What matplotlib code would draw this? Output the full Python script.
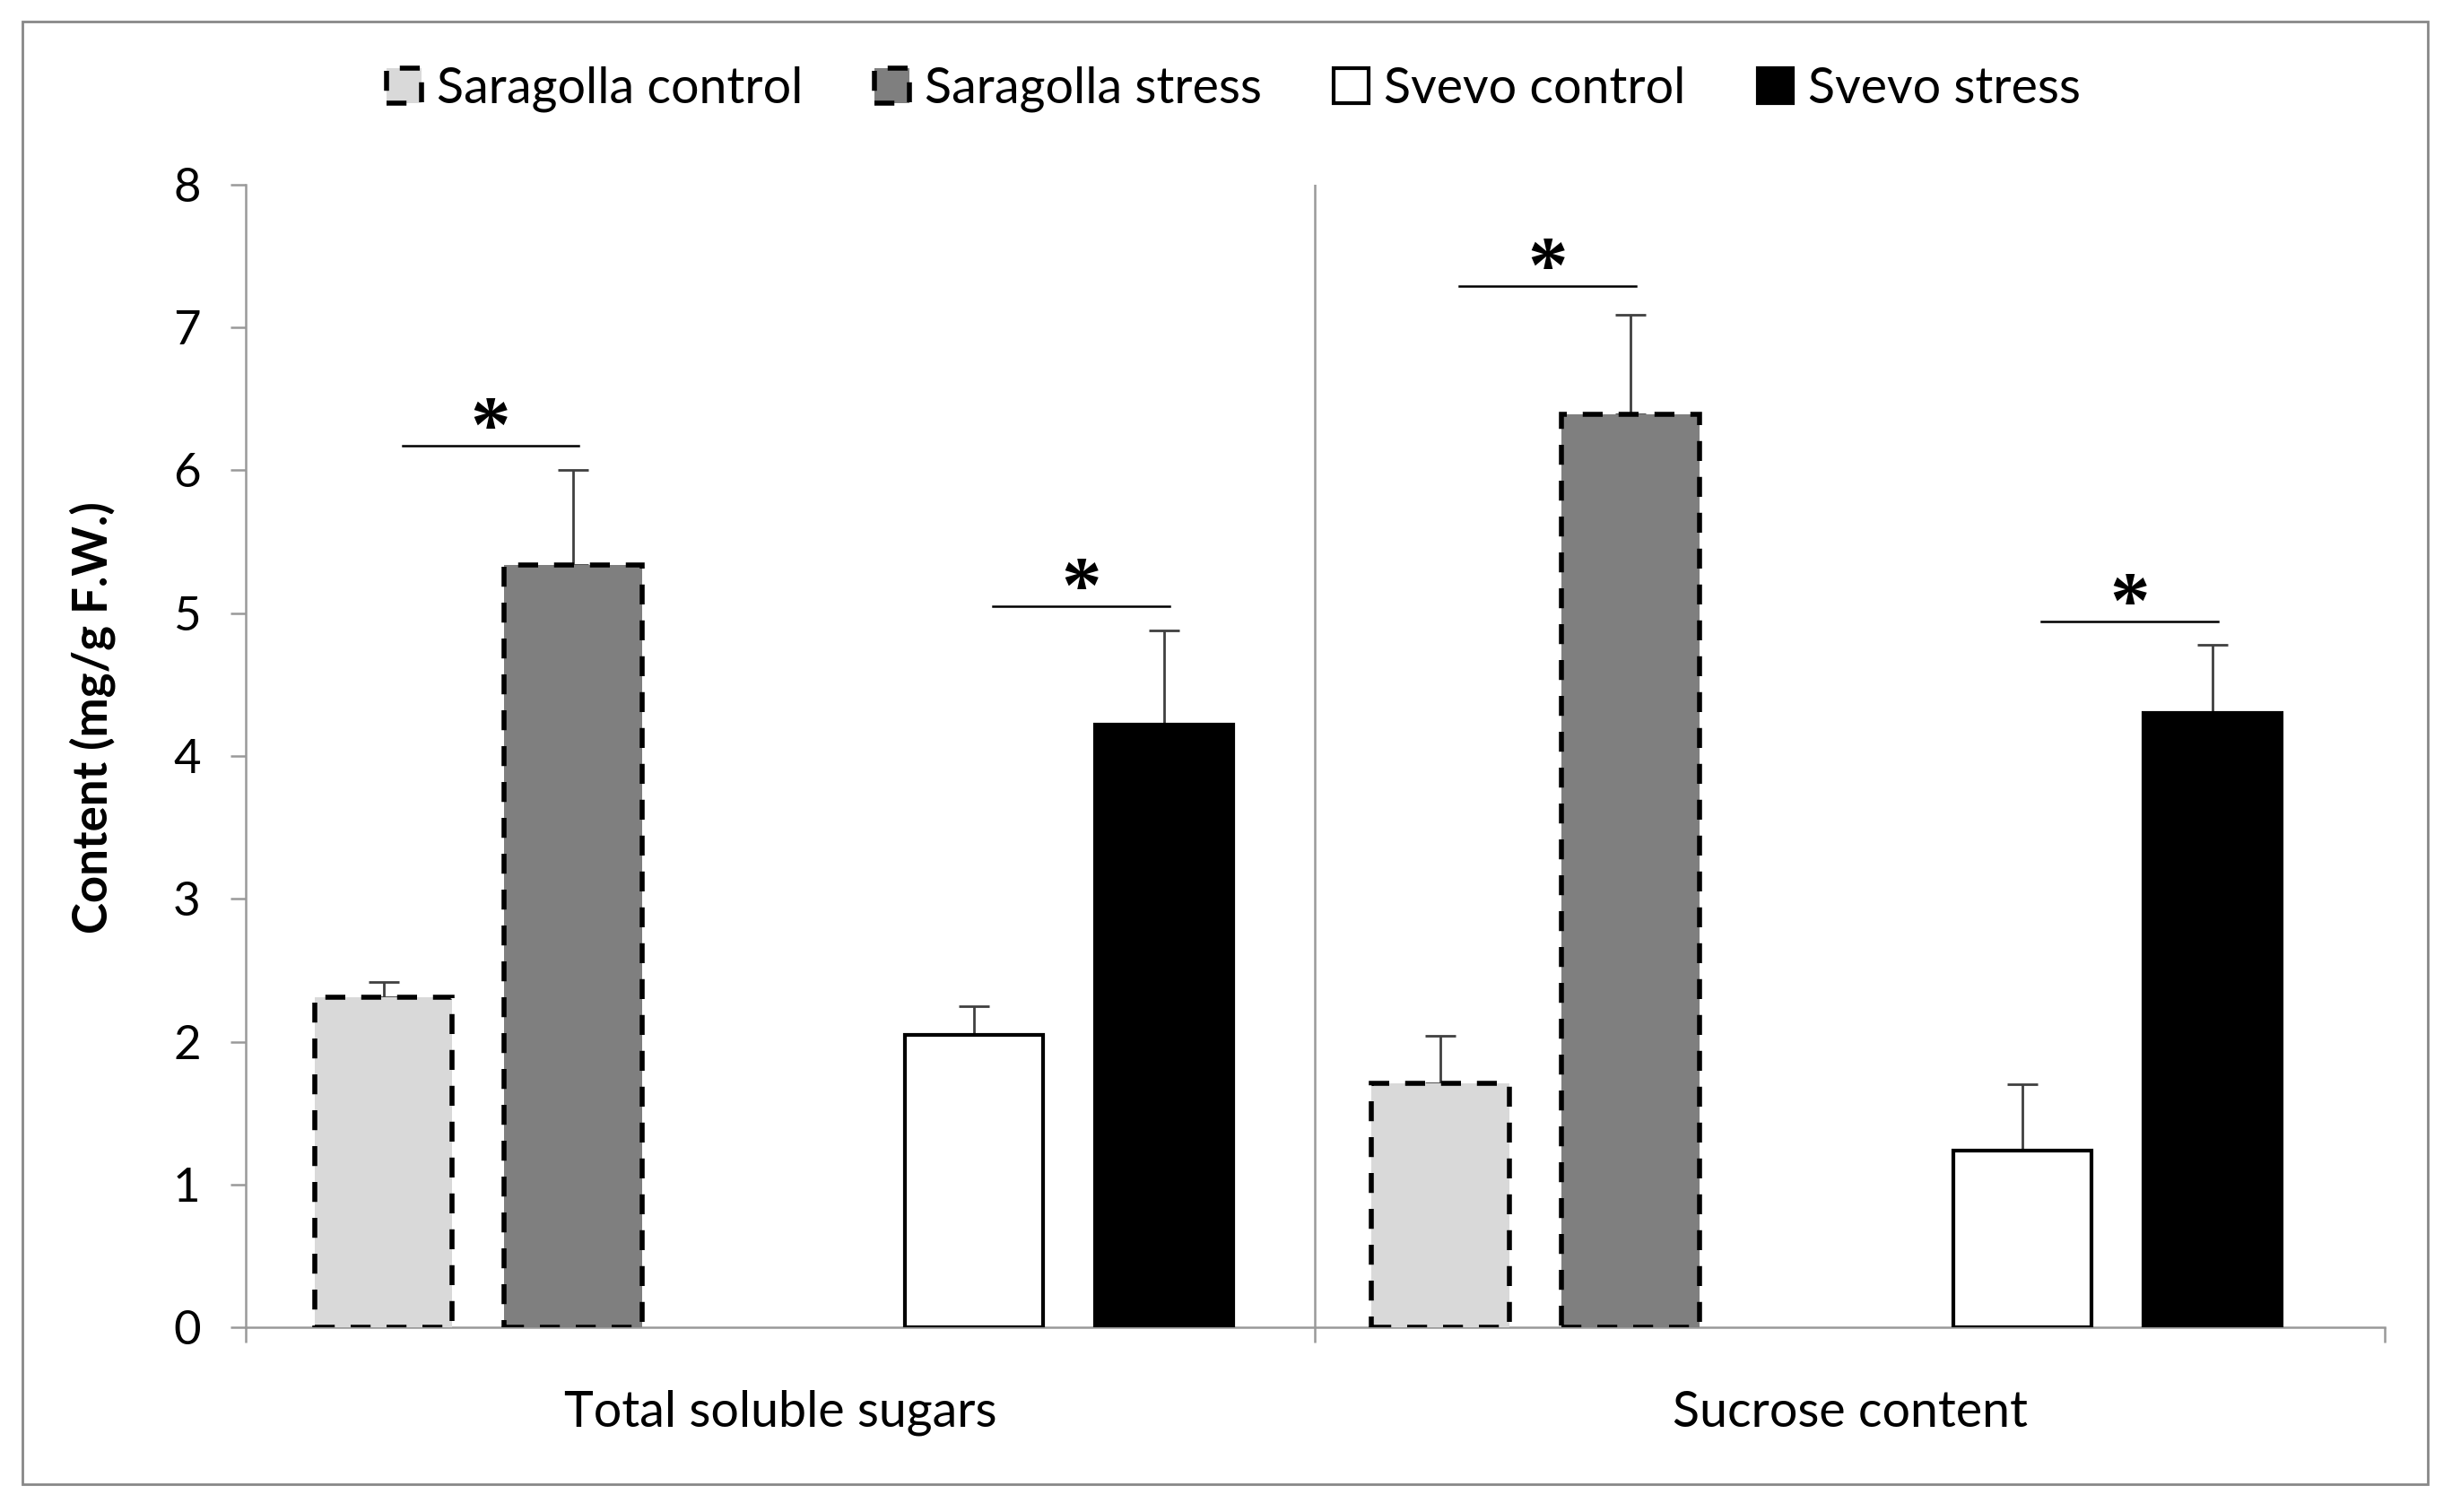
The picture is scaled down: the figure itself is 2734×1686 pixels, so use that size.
import matplotlib
matplotlib.use("Agg")
import matplotlib.pyplot as plt
from matplotlib.patches import Patch, Rectangle
import numpy as np

# data
categories = ["Total soluble sugars", "Sucrose content"]
series = ["Saragolla control", "Saragolla stress", "Svevo control", "Svevo stress"]
sar_control = [2.31, 1.71]
sar_stress = [5.34, 6.39]
sv_control = [2.05, 1.24]
sv_stress = [4.22, 4.30]
sar_control_err = [0.11, 0.33]
sar_stress_err = [0.66, 0.70]
sv_control_err = [0.20, 0.46]
sv_stress_err = [0.66, 0.48]
# significance bars: (category index, pair, height)
sig_marks = [(0, "Saragolla", 6.17), (0, "Svevo", 5.05),
             (1, "Saragolla", 7.29), (1, "Svevo", 4.94)]

plt.rcParams["font.family"] = ["Lato", "DejaVu Sans"]

fig = plt.figure(figsize=(13.67, 8.43), dpi=200)
ax = fig.add_axes([0.1001, 0.122, 0.8725, 0.756])

x = np.arange(len(categories))
# bar offsets from category centre, per category (series order)
offsets = np.array([[-0.371, -0.194, 0.181, 0.359],
                    [-0.383, -0.205, 0.161, 0.339]])
width = 0.129
values = [sar_control, sar_stress, sv_control, sv_stress]
errs = [sar_control_err, sar_stress_err, sv_control_err, sv_stress_err]
faces = ["#d9d9d9", "#7f7f7f", "white", "black"]
styles = [(0, (4, 3.2)), (0, (4, 3.2)), "solid", "solid"]
lws = [2.0, 2.0, 1.5, 1.5]

for i, (vals, err, fc, ls, lw) in enumerate(zip(values, errs, faces, styles, lws)):
    pos = x + offsets[:, i]
    ax.bar(pos, vals, width, color=fc, edgecolor="black", linestyle=ls,
           linewidth=lw, zorder=3)
    ax.errorbar(pos, vals, yerr=[np.zeros(len(vals)), err], fmt="none",
                ecolor="#404040", elinewidth=1.0, capsize=6, capthick=1.0, zorder=2)

pairs = {"Saragolla": (0, 1), "Svevo": (2, 3)}
for ci, name, h in sig_marks:
    a, b = pairs[name]
    x0 = ci + offsets[ci, a] + 0.018
    x1 = ci + offsets[ci, b] + 0.005
    ax.plot([x0, x1], [h, h], color="black", lw=0.9, zorder=4)
    ax.text((x0 + x1) / 2, h - 0.15, "*", ha="center", va="bottom",
            fontsize=32, fontweight="bold", family="Liberation Serif")

ax.set_xlim(-0.5, 1.5)
ax.set_ylim(0, 8)
ax.set_yticks(range(0, 9))
ax.tick_params(axis="y", labelsize=19, length=6, width=0.9, color="#999999", pad=12)
ax.set_xticks([-0.5, 0.5, 1.5])
ax.set_xticklabels([])
ax.tick_params(axis="x", length=6, width=0.9, color="#999999")
ax.set_xticks(x, minor=True)
ax.set_xticklabels(categories, minor=True, fontsize=20)
ax.tick_params(axis="x", which="minor", length=0, pad=25)
ax.axvline(0.5, color="#999999", lw=0.9, zorder=1)

for s in ["top", "right"]:
    ax.spines[s].set_visible(False)
for s in ["left", "bottom"]:
    ax.spines[s].set_color("#999999")
    ax.spines[s].set_linewidth(0.9)

ax.set_ylabel("Content (mg/g F.W.)", fontsize=19, fontweight="bold")
ax.yaxis.set_label_coords(-0.0607, 0.534)

handles = [Patch(facecolor=fc, edgecolor="black", linestyle=ls, linewidth=lw)
           for fc, ls, lw in zip(faces, styles, lws)]
fig.legend(handles, series, loc="center", bbox_to_anchor=(0.503, 0.941), ncol=4,
           frameon=False, fontsize=20, handlelength=0.7, handleheight=0.7,
           handletextpad=0.3, columnspacing=1.45)

fig.add_artist(Rectangle((0.009, 0.0186), 0.981, 0.967, transform=fig.transFigure,
                         fill=False, edgecolor="#888888", lw=1.0))

fig.savefig("out.png", dpi=200)
